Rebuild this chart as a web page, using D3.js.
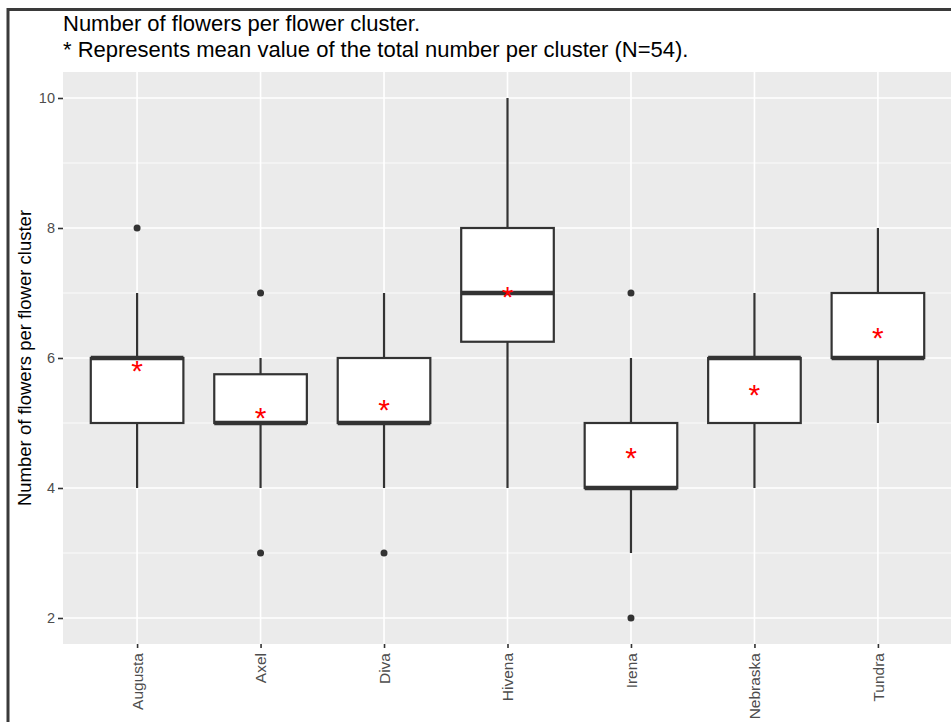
<!DOCTYPE html>
<html>
<head>
<meta charset="utf-8">
<script src="https://cdn.jsdelivr.net/npm/d3@7"></script>
<style>
  body { margin: 0; background: #fff; }
  svg { display: block; font-family: "Liberation Sans", Arial, sans-serif; }
</style>
</head>
<body>
<svg id="chart" width="951" height="722"></svg>
<script>
// cultivar names
var categories = ["Augusta", "Axel", "Diva", "Hivena", "Irena", "Nebraska", "Tundra"];
// box statistics
var lowerWhisker = [4, 4, 4, 4, 3, 4, 5];
var q1 = [5, 5, 5, 6.25, 4, 5, 6];
var median = [6, 5, 5, 7, 4, 6, 6];
var q3 = [6, 5.75, 6, 8, 5, 6, 7];
var upperWhisker = [7, 6, 7, 10, 6, 7, 8];
var outliers = [[8], [7, 3], [3], [], [7, 2], [], []];
var means = [5.88, 5.16, 5.28, 7.02, 4.54, 5.51, 6.39];
var yTicks = [2, 4, 6, 8, 10];
var yMinor = [3, 5, 7, 9];

var svg = d3.select("#chart");
var panel = {left: 63, top: 72, right: 952, bottom: 644};

var x = d3.scalePoint()
    .domain(categories)
    .range([panel.left, panel.right])
    .padding(0.6);

var y = d3.scaleLinear()
    .domain([1.6, 10.4])
    .range([panel.bottom, panel.top]);

var boxW = x.step() * 0.75;

// outer frame (cropped figure border)
svg.append("path")
    .attr("d", "M8,730 V9.5 H960")
    .attr("fill", "none")
    .attr("stroke", "#3a3a3a")
    .attr("stroke-width", 3);

// titles
svg.append("text")
    .attr("x", panel.left).attr("y", 31)
    .attr("font-size", 22).attr("fill", "#000")
    .text("Number of flowers per flower cluster.");
svg.append("text")
    .attr("x", panel.left).attr("y", 57)
    .attr("font-size", 22).attr("fill", "#000")
    .text("* Represents mean value of the total number per cluster (N=54).");

// panel background
svg.append("rect")
    .attr("x", panel.left).attr("y", panel.top)
    .attr("width", panel.right - panel.left)
    .attr("height", panel.bottom - panel.top)
    .attr("fill", "#ebebeb");

var grid = svg.append("g");
grid.selectAll(".minor").data(yMinor).enter().append("line")
    .attr("x1", panel.left).attr("x2", panel.right)
    .attr("y1", d => y(d)).attr("y2", d => y(d))
    .attr("stroke", "#fff").attr("stroke-width", 0.8);
grid.selectAll(".majorY").data(yTicks).enter().append("line")
    .attr("x1", panel.left).attr("x2", panel.right)
    .attr("y1", d => y(d)).attr("y2", d => y(d))
    .attr("stroke", "#fff").attr("stroke-width", 1.6);
grid.selectAll(".majorX").data(categories).enter().append("line")
    .attr("x1", d => x(d)).attr("x2", d => x(d))
    .attr("y1", panel.top).attr("y2", panel.bottom)
    .attr("stroke", "#fff").attr("stroke-width", 1.6);

// axes
var yAxis = svg.append("g")
    .attr("transform", "translate(" + panel.left + ",0)")
    .call(d3.axisLeft(y).tickValues(yTicks).tickSize(5).tickPadding(3));
var xAxis = svg.append("g")
    .attr("transform", "translate(0," + panel.bottom + ")")
    .call(d3.axisBottom(x).tickSize(4).tickPadding(4));
svg.selectAll(".domain").remove();
svg.selectAll(".tick line").attr("stroke", "#333").attr("stroke-width", 1.6);
svg.selectAll(".tick text")
    .attr("fill", "#4d4d4d")
    .attr("font-family", "Liberation Sans, Arial, sans-serif");
yAxis.selectAll(".tick text").attr("font-size", 14.5);
xAxis.selectAll(".tick text")
    .attr("font-size", 15.5)
    .attr("transform", "rotate(-90)")
    .attr("text-anchor", "end")
    .attr("x", -9).attr("y", 0).attr("dy", "0.35em");

// y axis title
svg.append("text")
    .attr("transform", "translate(31," + ((panel.top + panel.bottom) / 2) + ") rotate(-90)")
    .attr("text-anchor", "middle")
    .attr("font-size", 18.5).attr("fill", "#000")
    .text("Number of flowers per flower cluster");

// boxes
var idx = d3.range(categories.length);
var boxes = svg.append("g").selectAll("g").data(idx).enter().append("g");
var lineCol = "#333";

boxes.append("line")
    .attr("x1", i => x(categories[i])).attr("x2", i => x(categories[i]))
    .attr("y1", i => y(q3[i])).attr("y2", i => y(upperWhisker[i]))
    .attr("stroke", lineCol).attr("stroke-width", 2.2);
boxes.append("line")
    .attr("x1", i => x(categories[i])).attr("x2", i => x(categories[i]))
    .attr("y1", i => y(q1[i])).attr("y2", i => y(lowerWhisker[i]))
    .attr("stroke", lineCol).attr("stroke-width", 2.2);
boxes.append("rect")
    .attr("x", i => x(categories[i]) - boxW / 2)
    .attr("width", boxW)
    .attr("y", i => y(q3[i]))
    .attr("height", i => y(q1[i]) - y(q3[i]))
    .attr("fill", "#fff").attr("stroke", lineCol).attr("stroke-width", 2.2);
boxes.append("line")
    .attr("x1", i => x(categories[i]) - boxW / 2).attr("x2", i => x(categories[i]) + boxW / 2)
    .attr("y1", i => y(median[i])).attr("y2", i => y(median[i]))
    .attr("stroke", lineCol).attr("stroke-width", 4.4);

boxes.selectAll("circle")
    .data(i => outliers[i].map(v => ({cat: categories[i], v: v})))
    .enter().append("circle")
    .attr("cx", d => x(d.cat)).attr("cy", d => y(d.v))
    .attr("r", 3.5).attr("fill", lineCol);

// mean markers
boxes.append("text")
    .attr("x", i => x(categories[i])).attr("y", i => y(means[i]))
    .attr("dy", "0.5em")
    .attr("text-anchor", "middle")
    .attr("font-size", 30).attr("fill", "#ff0000")
    .text("*");
</script>
</body>
</html>
